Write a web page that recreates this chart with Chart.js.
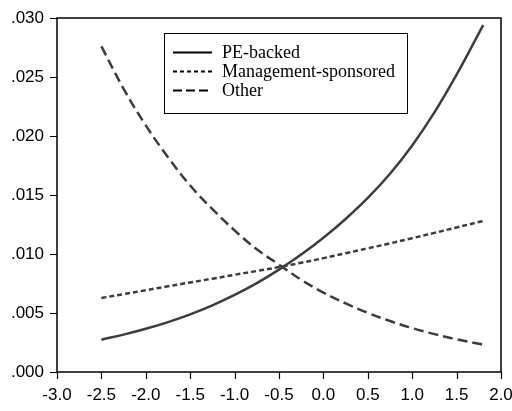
<!DOCTYPE html>
<html>
<head>
<meta charset="utf-8">
<script src="https://cdn.jsdelivr.net/npm/chart.js@4.4.1/dist/chart.umd.min.js"></script>
<style>
  html, body { margin: 0; padding: 0; background: #fff; }
  #wrap { width: 512px; height: 411px; }
</style>
</head>
<body>
<div id="wrap"><canvas id="graph" width="512" height="411"></canvas></div>
<script>
// values
const xs = [-2.5, -2.25, -2.0, -1.75, -1.5, -1.25, -1.0, -0.75, -0.5, -0.25, 0.0, 0.25, 0.5, 0.75, 1.0, 1.25, 1.5, 1.75, 1.8];
const peBacked = [0.00274, 0.00317, 0.00366, 0.00423, 0.00489, 0.00565, 0.00653, 0.00753, 0.00868, 0.00995, 0.01138, 0.01297, 0.01475, 0.0168, 0.0192, 0.0220, 0.0252, 0.0287, 0.0294];
const mgmtSponsored = [0.00627, 0.0066, 0.00693, 0.00726, 0.00759, 0.00791, 0.00824, 0.00856, 0.00889, 0.00926, 0.00965, 0.01006, 0.01048, 0.0109, 0.01134, 0.01179, 0.01225, 0.01271, 0.0128];
const other = [0.0276, 0.024, 0.0209, 0.0182, 0.0158, 0.0138, 0.012, 0.0104, 0.0091, 0.00781, 0.00673, 0.00581, 0.00501, 0.00432, 0.00372, 0.00321, 0.00277, 0.00239, 0.00232];
const seriesNames = ["PE-backed", "Management-sponsored", "Other"];
const xTicks = [-3.0, -2.5, -2.0, -1.5, -1.0, -0.5, 0.0, 0.5, 1.0, 1.5, 2.0];
const yTicks = [0.000, 0.005, 0.010, 0.015, 0.020, 0.025, 0.030];

const pts = arr => arr.map((v, i) => ({ x: xs[i], y: v }));

// frame round the plot, tick marks, legend box inside it
const framePlugin = {
    id: 'frame',
    afterDraw(chart) {
        const ctx = chart.ctx;
        const a = chart.chartArea;
        const sx = chart.scales.x, sy = chart.scales.y;
        ctx.save();
        ctx.strokeStyle = '#000';
        ctx.lineWidth = 1.5;
        ctx.strokeRect(a.left, a.top, a.right - a.left, a.bottom - a.top);

        ctx.lineWidth = 1.2;
        ctx.beginPath();
        xTicks.forEach(v => {
            const px = Math.round(sx.getPixelForValue(v)) + 0.5;
            ctx.moveTo(px, a.bottom);
            ctx.lineTo(px, a.bottom + 7);
        });
        yTicks.forEach(v => {
            const py = Math.round(sy.getPixelForValue(v)) + 0.5;
            ctx.moveTo(a.left, py);
            ctx.lineTo(a.left - 7, py);
        });
        ctx.stroke();

        // legend
        const bx = 164.5, by = 33.5, bw = 243, bh = 80;
        ctx.fillStyle = '#fff';
        ctx.fillRect(bx, by, bw, bh);
        ctx.lineWidth = 1;
        ctx.strokeRect(bx, by, bw, bh);
        const dashes = [[], [4, 3], [9, 4]];
        ctx.font = '18px "Liberation Serif", "Times New Roman", serif';
        ctx.textBaseline = 'middle';
        chart.data.datasets.forEach((ds, i) => {
            const y = 52.5 + i * 19;
            ctx.strokeStyle = '#000';
            ctx.lineWidth = 2;
            ctx.setLineDash(dashes[i]);
            ctx.beginPath();
            ctx.moveTo(173, y);
            ctx.lineTo(212, y);
            ctx.stroke();
            ctx.setLineDash([]);
            ctx.fillStyle = '#000';
            ctx.fillText(ds.label, 222, y + 1);
        });
        ctx.restore();
    }
};

const lineColor = '#3d3d3d';

let myChart = new Chart(document.getElementById('graph').getContext('2d'), {
    type: 'line',
    data: {
        datasets: [
            {
                label: seriesNames[0],
                data: pts(peBacked),
                borderColor: lineColor,
                borderWidth: 2.5,
                pointRadius: 0,
                tension: 0.4,
                fill: false,
            },
            {
                label: seriesNames[1],
                data: pts(mgmtSponsored),
                borderColor: lineColor,
                borderWidth: 2.5,
                borderDash: [5, 3],
                pointRadius: 0,
                tension: 0.4,
                fill: false,
            },
            {
                label: seriesNames[2],
                data: pts(other),
                borderColor: lineColor,
                borderWidth: 2.5,
                borderDash: [10, 5],
                pointRadius: 0,
                tension: 0.4,
                fill: false,
            },
        ],
    },
    options: {
        responsive: false,
        animation: false,
        layout: {
            padding: { top: 18, right: 11, left: 0, bottom: 0 },
        },
        plugins: {
            legend: { display: false },
            tooltip: { enabled: false },
        },
        scales: {
            x: {
                type: 'linear',
                min: -3,
                max: 2,
                afterBuildTicks: scale => { scale.ticks = xTicks.map(v => ({ value: v })); },
                afterFit: scale => { scale.height = 39; scale.paddingRight = 0; scale.paddingLeft = 0; },
                border: { display: false },
                grid: { display: false },
                ticks: {
                    color: '#000',
                    padding: 5,
                    maxRotation: 0,
                    font: { family: '"Liberation Sans", Arial, sans-serif', size: 17 },
                    callback: v => v.toFixed(1),
                },
            },
            y: {
                type: 'linear',
                min: 0,
                max: 0.03,
                afterBuildTicks: scale => { scale.ticks = yTicks.map(v => ({ value: v })); },
                afterFit: scale => { scale.width = 57; },
                border: { display: false },
                grid: { display: false },
                ticks: {
                    color: '#000',
                    padding: 5,
                    font: { family: '"Liberation Sans", Arial, sans-serif', size: 17 },
                    callback: v => v.toFixed(3).replace(/^0/, ''),
                },
            },
        },
    },
    plugins: [framePlugin],
});
</script>
</body>
</html>
